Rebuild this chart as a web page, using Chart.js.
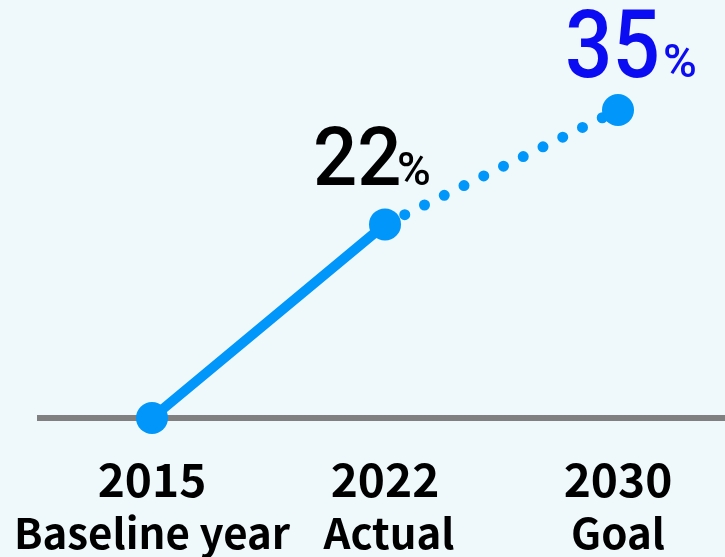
<!DOCTYPE html>
<html>
<head>
<meta charset="utf-8">
<script src="https://cdn.jsdelivr.net/npm/chart.js@4"></script>
<style>
  html, body { margin: 0; padding: 0; background: #eff8fb; }
  #chart { display: block; }
</style>
</head>
<body>
<canvas id="chart" width="725" height="557"></canvas>
<script>
// chart data
const years = ['2015', '2022', '2030'];
const yearNotes = ['Baseline year', 'Actual', 'Goal'];
const values = [0, 22, 35];
const valueLabels = ['', '22', '35'];

const lineColor = '#0096fa';

// draws the gray base line, the value labels and the year labels
const labelPlugin = {
  id: 'labels',
  beforeDatasetsDraw(chart) {
    const ctx = chart.ctx;
    const y0 = chart.scales.y.getPixelForValue(0);
    ctx.save();
    ctx.strokeStyle = '#808080';
    ctx.lineWidth = 6;
    ctx.beginPath();
    ctx.moveTo(37, y0);
    ctx.lineTo(chart.width, y0);
    ctx.stroke();
    ctx.restore();
  },
  afterDatasetsDraw(chart) {
    const ctx = chart.ctx;
    const pts = chart.getDatasetMeta(0).data;
    const y0 = chart.scales.y.getPixelForValue(0);
    ctx.save();
    ctx.textAlign = 'center';
    ctx.textBaseline = 'alphabetic';
    ctx.fillStyle = '#000';
    pts.forEach((p, i) => {
      ctx.font = 'bold 46px "Noto Sans CJK JP", "Noto Sans", sans-serif';
      ctx.fillText(years[i], p.x, y0 + 79);
      ctx.font = 'bold 42px "Noto Sans CJK JP", "Noto Sans", sans-serif';
      ctx.fillText(yearNotes[i], p.x + (i === 1 ? 4 : 0), y0 + 131);
    });

    // value labels above the points
    const styles = [
      null,
      { dx: -72, dy: -39, size: 82, sx: 0.95, pdx: 12, color: '#000000' },
      { dx: -53, dy: -33, size: 94, sx: 0.89, pdx: 45, color: '#0c0cf2' }
    ];
    ctx.textAlign = 'left';
    pts.forEach((p, i) => {
      const s = styles[i];
      if (!s || !valueLabels[i]) return;
      ctx.fillStyle = s.color;
      ctx.save();
      ctx.translate(p.x + s.dx, p.y + s.dy);
      ctx.scale(s.sx, 1);
      ctx.font = '500 ' + s.size + 'px Roboto, sans-serif';
      ctx.fillText(valueLabels[i], 0, 0);
      ctx.restore();
      ctx.font = '500 46px Roboto, sans-serif';
      ctx.fillText('%', p.x + s.pdx, p.y + s.dy);
    });
    ctx.restore();
  }
};

new Chart(document.getElementById('chart'), {
  type: 'line',
  data: {
    labels: years,
    datasets: [{
      data: values,
      borderColor: lineColor,
      backgroundColor: lineColor,
      borderWidth: 10,
      borderCapStyle: 'round',
      pointRadius: 16,
      pointBorderWidth: 0,
      pointBackgroundColor: lineColor,
      clip: false,
      segment: {
        borderDash: c => c.p0DataIndex === 1 ? [0, 22] : undefined,
        borderWidth: c => c.p0DataIndex === 1 ? 11 : undefined
      }
    }]
  },
  options: {
    responsive: false,
    animation: false,
    layout: {
      padding: { left: 152, right: 107, top: 110, bottom: 139 }
    },
    plugins: {
      legend: { display: false },
      tooltip: { enabled: false }
    },
    scales: {
      x: { display: false },
      y: { display: false, min: 0, max: 35 }
    }
  },
  plugins: [labelPlugin]
});
</script>
</body>
</html>
